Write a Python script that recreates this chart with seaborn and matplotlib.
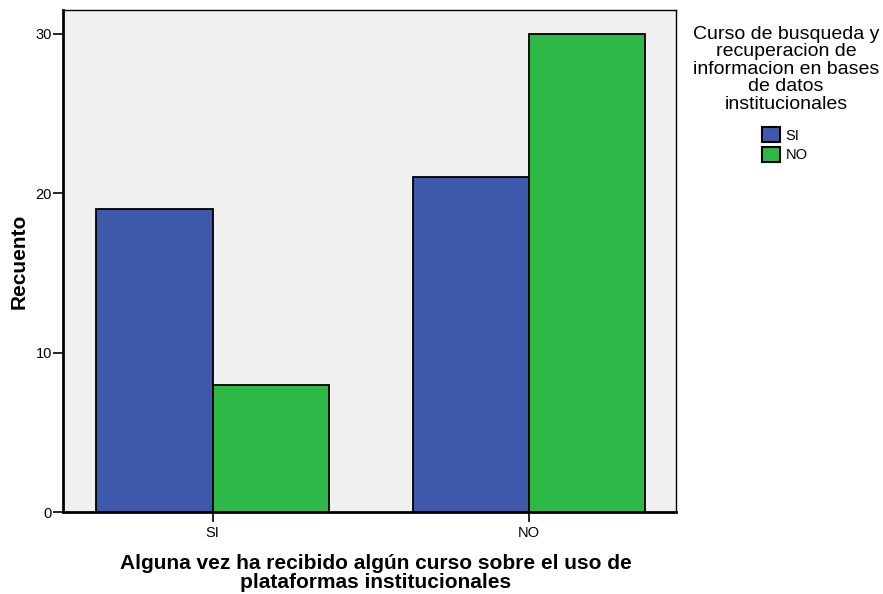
import matplotlib
matplotlib.use("Agg")
import matplotlib.pyplot as plt
from matplotlib.patches import Patch
import seaborn as sns
import pandas as pd

# data
categories = ["SI", "NO"]          # Alguna vez ha recibido algún curso...
hue_levels = ["SI", "NO"]          # Curso de busqueda y recuperacion...
counts_si = [19, 21]
counts_no = [8, 30]
bar_colors = ["#3e58ac", "#2eb848"]

df = pd.DataFrame({
    "cat": categories * 2,
    "hue": [hue_levels[0]] * 2 + [hue_levels[1]] * 2,
    "count": counts_si + counts_no,
})

sns.set_style("white")
plt.rcParams["font.family"] = ["Liberation Sans", "DejaVu Sans"]
plt.rcParams["text.color"] = "black"
plt.rcParams["axes.labelcolor"] = "black"
plt.rcParams["xtick.color"] = "black"
plt.rcParams["ytick.color"] = "black"

fig = plt.figure(figsize=(8.83, 5.94), dpi=100)
ax = fig.add_axes([63 / 883, 82 / 594, 613 / 883, 502 / 594])
ax.set_facecolor("#f0f0f0")

sns.barplot(
    data=df, x="cat", y="count", hue="hue",
    order=categories, hue_order=hue_levels,
    palette=bar_colors,
    width=0.735, gap=0, saturation=1,
    edgecolor="black", linewidth=1.3,
    ax=ax, legend=False,
)

ax.set_xlim(-0.473, 1.464)
ax.set_ylim(0, 31.5)
ax.set_yticks([0, 10, 20, 30])
ax.tick_params(axis="both", direction="out", length=7, width=1.2, color="black",
               labelcolor="black", labelsize=10.5, left=True, bottom=True)
ax.tick_params(axis="y", pad=1)
ax.tick_params(axis="x", pad=3)
for s in ["left", "bottom"]:
    ax.spines[s].set_linewidth(2)
    ax.spines[s].set_color("black")
for s in ["top", "right"]:
    ax.spines[s].set_linewidth(1.0)
    ax.spines[s].set_color("black")

ax.set_ylabel("Recuento", fontsize=15, fontweight="bold", color="black")
ax.yaxis.set_label_coords(-0.056, 0.5)
ax.set_xlabel("Alguna vez ha recibido algún curso sobre el uso de\nplataformas institucionales",
              fontsize=15, fontweight="bold", linespacing=0.97, color="black")
ax.xaxis.set_label_coords(0.51, -0.084)

# legend: centred title, then the two swatches
fig.text(786 / 883, 1 - 26 / 594,
         "Curso de busqueda y\nrecuperacion de\ninformacion en bases\nde datos\ninstitucionales",
         ha="center", va="top", multialignment="center",
         fontsize=14, linespacing=1.03, color="black")
handles = [Patch(facecolor=c, edgecolor="black", linewidth=1.5) for c in bar_colors]
fig.legend(handles, hue_levels,
           loc="upper left", bbox_to_anchor=(762 / 883, 1 - 127 / 594),
           frameon=False, fontsize=10.5, borderpad=0, borderaxespad=0,
           handlelength=1.2, handleheight=1.25, handletextpad=0.4,
           labelspacing=0.27, labelcolor="black")

fig.savefig("out.png", dpi=100)
